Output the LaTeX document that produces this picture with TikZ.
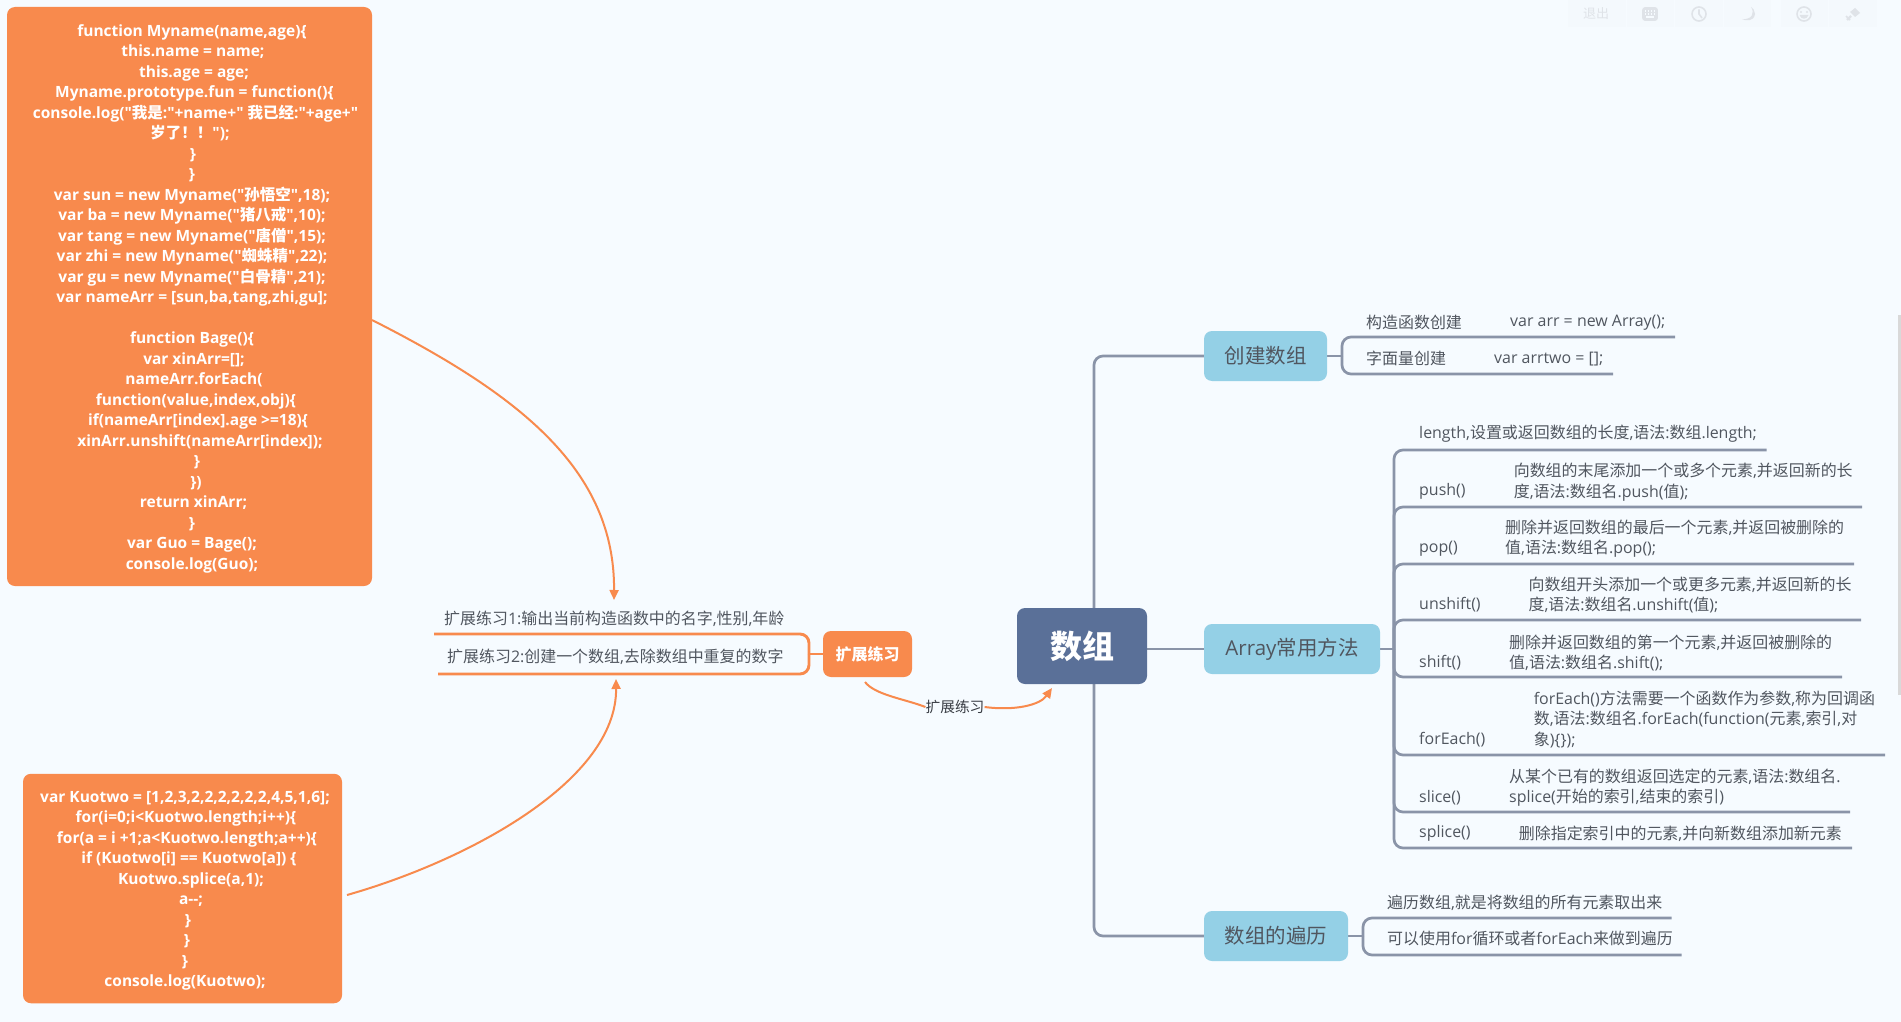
\documentclass[tikz,border=0pt]{standalone}
\usepackage{fontspec}
\setmainfont{Open Sans}
\newfontfamily\osf{Open Sans}
\newfontfamily\cjkf{Noto Sans CJK SC}
\newcommand\zh[1]{{\cjkf #1}}
\newcommand\dd[1]{\hspace*{#1pt}}
\usetikzlibrary{arrows.meta,backgrounds}
\definecolor{bgc}{HTML}{F6FBFF}
\definecolor{orangec}{HTML}{F88A4D}
\definecolor{bluec}{HTML}{94D0E6}
\definecolor{rootc}{HTML}{5A7098}
\definecolor{linec}{HTML}{8A94A8}
\definecolor{textc}{HTML}{50565F}
\definecolor{toolc}{HTML}{DFE3E8}
\definecolor{panelc}{HTML}{F4F9FD}
\tikzset{
  x=1pt,y=-1pt,
  obox/.style={fill=orangec,draw=none,rounded corners=8pt,inner sep=0pt},
  ocode/.style={text=white,align=center,inner sep=0pt,font=\osf\bfseries\fontsize{15.5}{20.5}\selectfont},
  bbox/.style={fill=bluec,draw=none,rounded corners=8pt,inner sep=0pt,text=textc,font=\osf\fontsize{20.5}{24}\selectfont},
  rbox/.style={fill=rootc,draw=none,rounded corners=8pt,inner sep=0pt,text=white,font=\osf\bfseries\fontsize{32}{36}\selectfont},
  lab/.style={anchor=west,inner sep=0pt,text=textc,align=left,font=\osf\fontsize{15.95}{20.5}\selectfont},
  gline/.style={draw=linec,line width=2.7pt,rounded corners=9pt},
  oline/.style={draw=orangec,line width=2.9pt,rounded corners=9pt},
  oarrow/.style={draw=orangec,line width=2pt,-{Triangle[length=10pt,width=9pt]}},
  ocurve/.style={draw=orangec,line width=2pt},
  tool/.style={draw=toolc,line width=1.6pt},
}
\begin{document}
\begin{tikzpicture}
\useasboundingbox (0,0) rectangle (1901,1022);
% code boxes
\node[obox,minimum width=365pt,minimum height=579pt] (b1) at (189.5,296.5) {};
\node[ocode] (t1) at (192,298.5) {%
function Myname(name,age)\{\\
\dd{2}this.name = name;\\
\dd{4}this.age = age;\\
\dd{5}Myname.prototype.fun = function()\{\\
\dd{7}console.log("\zh{我是}:"+name+" \zh{我已经}:"+age+"\\
\dd{-4}\zh{岁了！！}");\\
\dd{2}\}\\
\}\\
var sun = new Myname("\zh{孙悟空}",18);\\
var ba = new Myname("\zh{猪八戒}",10);\\
var tang = new Myname("\zh{唐僧}",15);\\
var zhi = new Myname("\zh{蜘蛛精}",22);\\
var gu = new Myname("\zh{白骨精}",21);\\
var nameArr = [sun,ba,tang,zhi,gu];\\
~\\
function Bage()\{\\
\dd{4}var xinArr=[];\\
\dd{4}nameArr.forEach(\\
\dd{8}function(value,index,obj)\{\\
\dd{12}if(nameArr[index].age >=18)\{\\
\dd{16}xinArr.unshift(nameArr[index]);\\
\dd{10}\}\\
\dd{8}\})\\
\dd{3}return xinArr;\\
\}\\
var Guo = Bage();\\
console.log(Guo);};
\node[obox,minimum width=319pt,minimum height=229.5pt] (b2) at (182.5,888.5) {};
\node[ocode] (t2) at (185,890.6) {%
var Kuotwo = [1,2,3,2,2,2,2,2,2,4,5,1,6];\\
\dd{2}for(i=0;i<Kuotwo.length;i++)\{\\
\dd{4}for(a = i +1;a<Kuotwo.length;a++)\{\\
\dd{8}if (Kuotwo[i] == Kuotwo[a]) \{\\
\dd{12}Kuotwo.splice(a,1);\\
\dd{12}a-{}-;\\
\dd{6}\}\\
\dd{4}\}\\
\}\\
console.log(Kuotwo);};
% exercise
\node[obox,text=white,font=\osf\bfseries\fontsize{16}{20}\selectfont,minimum width=89pt,minimum height=46pt] (ex) at (867.5,654) {\zh{扩展练习}};
\node[lab] (e1) at (444,619) {\zh{扩展练习}1:\zh{输出当前构造函数中的名字},\zh{性别},\zh{年龄}};
\node[lab] (e2) at (447,657) {\zh{扩展练习}2:\zh{创建一个数组},\zh{去除数组中重复的数字}};
\coordinate (e1end) at (434,634);
\coordinate (e2end) at (438,674);
\coordinate (exj) at (809,654);
\coordinate (a1s) at (372,320);
\coordinate (a1t) at (614,600);
\coordinate (a2s) at (347,895);
\coordinate (a2t) at (616,679);
\coordinate (cs) at (865,682);
\coordinate (ct) at (1052,688);
\node[inner sep=0pt,text=textc!70!black,font=\osf\fontsize{14.7}{18}\selectfont] (cl) at (955,707) {\zh{扩展练习}};
% root & branches
\node[rbox,minimum width=130pt,minimum height=76pt] (root) at (1082,646) {\zh{数组}};
\node[bbox,minimum width=123pt,minimum height=50pt] (n1) at (1265.5,356) {\zh{创建数组}};
\node[bbox,minimum width=176pt,minimum height=50pt] (n2) at (1292,649) {Array\zh{常用方法}};
\node[bbox,minimum width=144pt,minimum height=50pt] (n3) at (1276,936) {\zh{数组的遍历}};
\coordinate (st) at (1094,646);
% create
\coordinate (cj) at (1342,356);
\coordinate (c1) at (1675,337);
\coordinate (c2) at (1613,374);
\node[lab] (c1a) at (1366,322.5) {\zh{构造函数创建}};
\node[lab] (c1b) at (1510,323) {var arr = new Array();};
\node[lab] (c2a) at (1366,358.5) {\zh{字面量创建}};
\node[lab] (c2b) at (1494,359.5) {var arrtwo = [];};
% array methods
\coordinate (aj) at (1394,649);
\coordinate (r1) at (1766.5,450);
\coordinate (r2) at (1862,507);
\coordinate (r3) at (1854,564);
\coordinate (r4) at (1861,620);
\coordinate (r5) at (1842,677);
\coordinate (r6) at (1885,755);
\coordinate (r7) at (1850,812);
\coordinate (r8) at (1852,848);
\node[lab] (l1) at (1419,434) {length,\zh{设置或返回数组的长度},\zh{语法}:\zh{数组}.length;};
\node[lab] (l2) at (1419,491.5) {push()};
\node[lab] (d2) at (1513.6,482) {\zh{向数组的末尾添加一个或多个元素},\zh{并返回新的长}\\\zh{度},\zh{语法}:\zh{数组名}.push(\zh{值});};
\node[lab] (l3) at (1419,549) {pop()};
\node[lab] (d3) at (1505,538.5) {\zh{删除并返回数组的最后一个元素},\zh{并返回被删除的}\\\zh{值},\zh{语法}:\zh{数组名}.pop();};
\node[lab] (l4) at (1419,605) {unshift()};
\node[lab] (d4) at (1528.4,595) {\zh{向数组开头添加一个或更多元素},\zh{并返回新的长}\\\zh{度},\zh{语法}:\zh{数组名}.unshift(\zh{值});};
\node[lab] (l5) at (1419,662.5) {shift()};
\node[lab] (d5) at (1509,653) {\zh{删除并返回数组的第一个元素},\zh{并返回被删除的}\\\zh{值},\zh{语法}:\zh{数组名}.shift();};
\node[lab] (l6) at (1419,740) {forEach()};
\node[lab] (d6) at (1533.6,719.5) {forEach()\zh{方法需要一个函数作为参数},\zh{称为回调函}\\\zh{数},\zh{语法}:\zh{数组名}.forEach(function(\zh{元素},\zh{索引},\zh{对}\\\zh{象})\{\});};
\node[lab] (l7) at (1419,797.5) {slice()};
\node[lab] (d7) at (1509,787.5) {\zh{从某个已有的数组返回选定的元素},\zh{语法}:\zh{数组名}.\\splice(\zh{开始的索引},\zh{结束的索引})};
\node[lab] (l8) at (1419,833.5) {splice()};
\node[lab] (d8) at (1518.7,833.5) {\zh{删除指定索引中的元素},\zh{并向新数组添加新元素}};
% traverse
\coordinate (tj) at (1363,936);
\coordinate (t1e) at (1671.6,918);
\coordinate (t2e) at (1681.6,955);
\node[lab] (tl1) at (1387,903) {\zh{遍历数组},\zh{就是将数组的所有元素取出来}};
\node[lab] (tl2) at (1387,938.5) {\zh{可以使用}for\zh{循环或者}forEach\zh{来做到遍历}};
% toolbar
\fill[panelc] (1568,0) rectangle (1771,27);
\fill[panelc] (1781,0) rectangle (1877,27);
\foreach \xx in {1626,1674,1723,1828}{\draw[bgc,line width=1pt] (\xx,0) -- (\xx,27);}
\node[inner sep=0pt,text=toolc,font=\osf\fontsize{13}{15}\selectfont] (quit) at (1596,14) {\zh{退出}};
\draw[tool,rounded corners=2pt,fill=toolc] (1643,8) rectangle (1657,20);
\foreach \xx in {1645.5,1648.5,1651.5,1654.5}{\fill[bgc] (\xx-0.7,10.5) rectangle (\xx+0.7,12); \fill[bgc] (\xx-0.7,13.5) rectangle (\xx+0.7,15);}
\fill[bgc] (1646,16.5) rectangle (1654,18);
\draw[tool] (1699,14) circle (7pt);
\draw[tool] (1699,9.5) -- (1699,14) -- (1702,18);
\fill[toolc] (1751,7) .. controls (1755,13) and (1752,20) .. (1742,19) .. controls (1745,21) and (1754,22) .. (1755,14) .. controls (1755,11) and (1753,8) .. (1751,7) -- cycle;
\draw[tool] (1804,14) circle (7pt);
\fill[toolc] (1801,12) circle (1.1pt) (1807,12) circle (1.1pt);
\fill[toolc] (1799.5,15) .. controls (1801,20) and (1807,20) .. (1808.5,15) -- cycle;
\fill[toolc] (1855,8) -- (1860,13) -- (1855,17) -- (1850,12) -- cycle;
\draw[tool,line width=2.4pt] (1851,16) -- (1847,20);
\draw[tool] (1846,16) -- (1850,20);
% scrollbar
\fill[black!15] (1898,315) rectangle (1901,695);
% connectors on background
\begin{pgfonlayer}{background}
\fill[bgc] (0,0) rectangle (1901,1022);
\draw[gline] (st) |- (n1.west);
\draw[gline] (st) |- (n3.west);
\draw[gline] (root.east |- n2.west) -- (n2.west);
\draw[gline] (n1.east) -- (cj);
\draw[gline] (cj) |- (c1);
\draw[gline] (cj) |- (c2);
\draw[gline] (n2.east) -- (aj);
\foreach \rr in {r1,r2,r3,r4,r5,r6,r7,r8}{\draw[gline] (aj) |- (\rr);}
\draw[gline] (n3.east) -- (tj);
\draw[gline] (tj) |- (t1e);
\draw[gline] (tj) |- (t2e);
\draw[oline] (ex.west) -- (exj);
\draw[oline] (exj) |- (e1end);
\draw[oline] (exj) |- (e2end);
\draw[oarrow] (a1s) .. controls (520,395) and (615,470) .. (a1t);
\draw[oarrow] (a2s) .. controls (470,860) and (617,780) .. (a2t);
\draw[ocurve] (cs) .. controls (875,695) and (905,699) .. (cl.west);
\draw[oarrow] (cl.east) .. controls (1015,711) and (1040,705) .. (ct);
\end{pgfonlayer}
\end{tikzpicture}
\end{document}
